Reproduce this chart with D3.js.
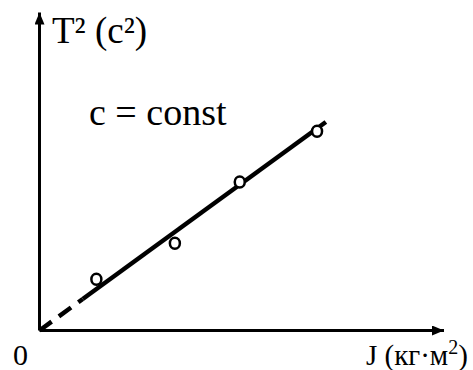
<!DOCTYPE html>
<html>
<head>
<meta charset="utf-8">
<script src="https://cdn.jsdelivr.net/npm/d3@7"></script>
<style>
  html, body { margin: 0; padding: 0; background: #fff; }
  svg { display: block; }
</style>
</head>
<body>
<svg id="chart" width="473" height="370"></svg>
<script>
// Measured moment of inertia J and squared period T^2 (arbitrary units)
const inertiaJ = [1.42, 3.38, 5.0, 6.93];
const periodSq = [1.28, 2.18, 3.71, 4.98];

// Linear fit T^2 = k * J through the origin
const fitSlope = 0.729;
const fitDashEnd = 1.08;   // extrapolated part toward the origin is dashed
const fitEnd = 7.15;

// Axis extents and labels
const xMax = 10.1;
const yMax = 7.95;
const yLabel = "T² (c²)";
const xLabel = "J (кг·м";
const xLabelSup = "2";
const originLabel = "0";
const noteLabel = "c = const";

const serif = "'Liberation Serif', 'DejaVu Serif', serif";

const svg = d3.select("#chart");

const x = d3.scaleLinear().domain([0, xMax]).range([39.5, 444]);
const y = d3.scaleLinear().domain([0, yMax]).range([330.5, 12.5]);

// Arrowhead for the axes
svg.append("defs").append("marker")
  .attr("id", "arrow")
  .attr("viewBox", "0 0 12 10")
  .attr("refX", 12).attr("refY", 5)
  .attr("markerWidth", 12).attr("markerHeight", 10)
  .attr("markerUnits", "userSpaceOnUse")
  .attr("orient", "auto")
  .append("path")
  .attr("d", "M0,0 L12,5 L0,10 Z")
  .attr("fill", "#000");

// Axes
svg.append("line")
  .attr("x1", x(0)).attr("y1", y(0))
  .attr("x2", x(0)).attr("y2", y(yMax))
  .attr("stroke", "#000").attr("stroke-width", 3)
  .attr("marker-end", "url(#arrow)");
svg.append("line")
  .attr("x1", x(0)).attr("y1", y(0))
  .attr("x2", x(xMax)).attr("y2", y(0))
  .attr("stroke", "#000").attr("stroke-width", 3)
  .attr("marker-end", "url(#arrow)");

// Fitted line: dashed near the origin, solid over the measured range
const fit = d3.line().x(d => x(d)).y(d => y(fitSlope * d));
svg.append("path")
  .attr("d", fit([0, fitDashEnd]))
  .attr("fill", "none").attr("stroke", "#000")
  .attr("stroke-width", 4.5)
  .attr("stroke-dasharray", "15,9");
svg.append("path")
  .attr("d", fit([fitDashEnd, fitEnd]))
  .attr("fill", "none").attr("stroke", "#000")
  .attr("stroke-width", 4.5);

// Measured points
svg.selectAll("ellipse.pt")
  .data(inertiaJ.map((j, i) => [j, periodSq[i]]))
  .join("ellipse")
  .attr("class", "pt")
  .attr("cx", d => x(d[0]))
  .attr("cy", d => y(d[1]))
  .attr("rx", 5).attr("ry", 5.5)
  .attr("fill", "#fff")
  .attr("stroke", "#000")
  .attr("stroke-width", 2.5);

// Labels
svg.append("text")
  .attr("x", 52).attr("y", 43)
  .attr("font-family", serif)
  .attr("font-size", 37)
  .text(yLabel);

svg.append("text")
  .attr("x", 89).attr("y", 125)
  .attr("font-family", serif)
  .attr("font-size", 38)
  .text(noteLabel);

const xl = svg.append("text")
  .attr("x", 366).attr("y", 365)
  .attr("font-family", serif)
  .attr("font-size", 29);
xl.append("tspan").text(xLabel);
xl.append("tspan").attr("font-size", 20).attr("dy", -11).text(xLabelSup);
xl.append("tspan").attr("dy", 11).text(")");

svg.append("text")
  .attr("x", 13).attr("y", 365)
  .attr("font-family", serif)
  .attr("font-size", 30)
  .text(originLabel);
</script>
</body>
</html>
